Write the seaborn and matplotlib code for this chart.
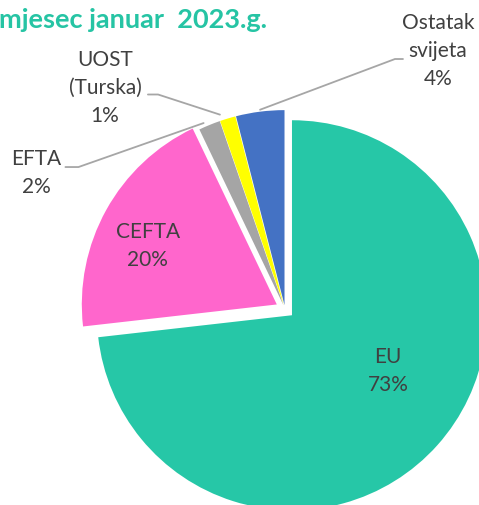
import seaborn as sns
import matplotlib.pyplot as plt
import numpy as np

# izvoz po grupama zemalja, januar 2023
regions = ['EU', 'CEFTA', 'EFTA', 'UOST\n(Turska)', 'Ostatak\nsvijeta']
shares = [73.2, 19.7, 1.8, 1.3, 4.0]
colors = ['#26C7A7', '#FF66CC', '#A5A5A5', '#FFFF00', '#4472C4']
explode = [0.048, 0.048, 0.02, 0.02, 0.02]

sns.set_theme(style="white")
plt.rcParams['font.family'] = ['Lato', 'DejaVu Sans']

fig = plt.figure(figsize=(4.79, 5.05), dpi=100)
ax = fig.add_axes([0, 0, 1, 1])

wedges, _ = ax.pie(shares, colors=colors, explode=explode, startangle=90,
                   counterclock=False, radius=1.0,
                   wedgeprops=dict(linewidth=0))

# pixel layout: center (285, 309), radius 195 px
ax.set_xlim(-285 / 195, (479 - 285) / 195)
ax.set_ylim(-(505 - 309) / 195, 309 / 195)
ax.set_aspect('auto')
ax.axis('off')

txt = '#404040'
fs = 15
ls = 1.5
lbl = [f"{r}\n{v:.0f}%" for r, v in zip(regions, shares)]

# labels inside
ax.text(0.528, -0.318, lbl[0], ha='center', va='center', fontsize=fs,
        color=txt, linespacing=ls)
ax.text(-0.703, 0.323, lbl[1], ha='center', va='center', fontsize=fs,
        color=txt, linespacing=ls)

# labels outside + leader lines
outside = {2: (-1.277, 0.698), 3: (-0.923, 1.133), 4: (0.785, 1.323)}
for i, (tx, ty) in outside.items():
    ax.text(tx, ty, lbl[i], ha='center', va='center', fontsize=fs,
            color=txt, linespacing=ls)

def anchor(i, r=1.0):
    w = wedges[i]
    th = np.deg2rad((w.theta1 + w.theta2) / 2)
    cx, cy = w.center
    return cx + r * np.cos(th), cy + r * np.sin(th)

lc = '#A6A6A6'
ax0 = anchor(2)
ax.plot([ax0[0] - 0.03, -1.059, -1.126], [ax0[1] + 0.01, 0.728, 0.728],
        color=lc, lw=1.3)
a1 = anchor(3)
ax.plot([a1[0] - 0.04, -0.651, -0.703], [a1[1] + 0.02, 1.10, 1.10],
        color=lc, lw=1.3)
a2 = anchor(4)
ax.plot([a2[0], 0.564, 0.605], [a2[1] + 0.01, 1.282, 1.282],
        color=lc, lw=1.3)

fig.text(-0.002, 1 - 20 / 505, 'mjesec januar  2023.g.', ha='left',
         va='center', fontsize=19.5, fontweight='bold', color='#26C4A4')

fig.savefig('out.png', dpi=100)
